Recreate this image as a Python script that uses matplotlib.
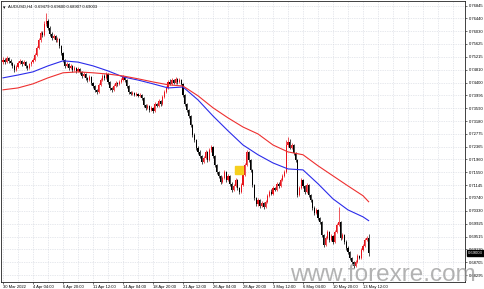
import matplotlib
matplotlib.use("Agg")
import matplotlib.pyplot as plt
from matplotlib.patches import Rectangle
from matplotlib.transforms import blended_transform_factory

# AUDUSD H4 candles
first_open = 0.7505
closes = [
    0.7512, 0.7505, 0.7518, 0.7509, 0.7502, 0.7493, 0.7480, 0.7490, 0.7502, 0.7509,
    0.7499, 0.7505, 0.7493, 0.7486, 0.7499, 0.7505, 0.7512, 0.7528, 0.7550, 0.7575,
    0.7597, 0.7591, 0.7626, 0.7635, 0.7613, 0.7594, 0.7582, 0.7588, 0.7575, 0.7578,
    0.7556, 0.7534, 0.7512, 0.7493, 0.7499, 0.7486, 0.7493, 0.7480, 0.7486, 0.7477,
    0.7483, 0.7474, 0.7461, 0.7467, 0.7455, 0.7448, 0.7458, 0.7439, 0.7429, 0.7417,
    0.7410, 0.7433, 0.7448, 0.7461, 0.7455, 0.7467, 0.7442, 0.7423, 0.7417, 0.7429,
    0.7439, 0.7436, 0.7442, 0.7448, 0.7458, 0.7448, 0.7429, 0.7410, 0.7404, 0.7407,
    0.7401, 0.7404, 0.7398, 0.7401, 0.7391, 0.7369, 0.7360, 0.7366, 0.7353, 0.7360,
    0.7350, 0.7372, 0.7366, 0.7382, 0.7372, 0.7395, 0.7410, 0.7423, 0.7442, 0.7436,
    0.7448, 0.7439, 0.7452, 0.7442, 0.7448, 0.7436, 0.7401, 0.7372, 0.7353, 0.7334,
    0.7306, 0.7274, 0.7258, 0.7233, 0.7220, 0.7207, 0.7188, 0.7201, 0.7220, 0.7195,
    0.7226, 0.7236, 0.7207, 0.7179, 0.7157, 0.7144, 0.7125, 0.7138, 0.7157, 0.7131,
    0.7144, 0.7119, 0.7100, 0.7112, 0.7131, 0.7106, 0.7093, 0.7116, 0.7147, 0.7179,
    0.7220, 0.7195, 0.7163, 0.7116, 0.7074, 0.7055, 0.7068, 0.7049, 0.7058, 0.7046,
    0.7062, 0.7081, 0.7093, 0.7087, 0.7106, 0.7100, 0.7119, 0.7112, 0.7131, 0.7144,
    0.7157, 0.7242, 0.7252, 0.7233, 0.7242, 0.7217, 0.7195, 0.7084, 0.7106, 0.7131,
    0.7112, 0.7093, 0.7116, 0.7084, 0.7068, 0.7043, 0.7027, 0.7036, 0.7011, 0.6998,
    0.6957, 0.6925, 0.6948, 0.6967, 0.6941, 0.6954, 0.6935, 0.6967, 0.6989, 0.6998,
    0.6948, 0.6957, 0.6935, 0.6916, 0.6903, 0.6884, 0.6871, 0.6859, 0.6871, 0.6890,
    0.6884, 0.6910, 0.6922, 0.6941, 0.69479, 0.69003,
]
highs = [
    0.7520, 0.7518, 0.7524, 0.7522, 0.7514, 0.7506, 0.7498, 0.7495, 0.7507, 0.7515,
    0.7513, 0.7511, 0.7508, 0.7497, 0.7503, 0.7510, 0.7518, 0.7533, 0.7556, 0.7581,
    0.7603, 0.7605, 0.7634, 0.7661, 0.7642, 0.7618, 0.7600, 0.7595, 0.7592, 0.7584,
    0.7582, 0.7560, 0.7538, 0.7516, 0.7505, 0.7503, 0.7499, 0.7497, 0.7492, 0.7490,
    0.7489, 0.7487, 0.7478, 0.7473, 0.7470, 0.7459, 0.7463, 0.7461, 0.7443, 0.7433,
    0.7421, 0.7438, 0.7453, 0.7466, 0.7467, 0.7473, 0.7470, 0.7446, 0.7427, 0.7434,
    0.7444, 0.7443, 0.7447, 0.7453, 0.7464, 0.7461, 0.7451, 0.7432, 0.7414, 0.7412,
    0.7411, 0.7409, 0.7408, 0.7406, 0.7404, 0.7394, 0.7373, 0.7371, 0.7369, 0.7365,
    0.7363, 0.7377, 0.7376, 0.7388, 0.7385, 0.7400, 0.7415, 0.7429, 0.7448, 0.7452,
    0.7454, 0.7451, 0.7458, 0.7455, 0.7453, 0.7451, 0.7439, 0.7405, 0.7376, 0.7357,
    0.7338, 0.7310, 0.7279, 0.7262, 0.7238, 0.7225, 0.7211, 0.7206, 0.7226, 0.7224,
    0.7231, 0.7241, 0.7239, 0.7211, 0.7183, 0.7161, 0.7148, 0.7143, 0.7162, 0.7160,
    0.7149, 0.7147, 0.7123, 0.7117, 0.7136, 0.7134, 0.7110, 0.7121, 0.7152, 0.7184,
    0.7226, 0.7224, 0.7198, 0.7166, 0.7119, 0.7078, 0.7073, 0.7071, 0.7063, 0.7061,
    0.7067, 0.7086, 0.7098, 0.7101, 0.7111, 0.7110, 0.7124, 0.7123, 0.7136, 0.7149,
    0.7162, 0.7258, 0.7266, 0.7261, 0.7248, 0.7246, 0.7221, 0.7199, 0.7111, 0.7137,
    0.7135, 0.7116, 0.7121, 0.7119, 0.7088, 0.7072, 0.7047, 0.7041, 0.7040, 0.7015,
    0.7002, 0.6961, 0.6953, 0.6972, 0.6970, 0.6959, 0.6957, 0.6972, 0.6994, 0.7045,
    0.7002, 0.6962, 0.6960, 0.6939, 0.6920, 0.6907, 0.6888, 0.6875, 0.6876, 0.6895,
    0.6894, 0.6915, 0.6927, 0.6946, 0.6953, 0.69600,
]
lows = [
    0.7500, 0.7498, 0.7501, 0.7503, 0.7495, 0.7486, 0.7474, 0.7476, 0.7486, 0.7498,
    0.7494, 0.7495, 0.7487, 0.7480, 0.7483, 0.7494, 0.7501, 0.7508, 0.7524, 0.7545,
    0.7570, 0.7585, 0.7587, 0.7620, 0.7607, 0.7588, 0.7575, 0.7577, 0.7569, 0.7570,
    0.7550, 0.7528, 0.7506, 0.7487, 0.7488, 0.7480, 0.7482, 0.7474, 0.7476, 0.7471,
    0.7473, 0.7468, 0.7455, 0.7457, 0.7449, 0.7442, 0.7444, 0.7433, 0.7423, 0.7410,
    0.7403, 0.7406, 0.7429, 0.7444, 0.7449, 0.7451, 0.7436, 0.7417, 0.7411, 0.7413,
    0.7425, 0.7430, 0.7432, 0.7438, 0.7444, 0.7443, 0.7424, 0.7404, 0.7399, 0.7400,
    0.7396, 0.7397, 0.7393, 0.7394, 0.7386, 0.7363, 0.7354, 0.7356, 0.7347, 0.7349,
    0.7344, 0.7347, 0.7361, 0.7362, 0.7367, 0.7368, 0.7391, 0.7406, 0.7419, 0.7431,
    0.7432, 0.7434, 0.7435, 0.7437, 0.7438, 0.7431, 0.7395, 0.7366, 0.7347, 0.7328,
    0.7300, 0.7268, 0.7252, 0.7227, 0.7214, 0.7201, 0.7182, 0.7184, 0.7197, 0.7189,
    0.7191, 0.7221, 0.7201, 0.7173, 0.7151, 0.7138, 0.7118, 0.7121, 0.7134, 0.7125,
    0.7127, 0.7113, 0.7094, 0.7096, 0.7108, 0.7100, 0.7086, 0.7089, 0.7112, 0.7143,
    0.7175, 0.7189, 0.7157, 0.7110, 0.7068, 0.7048, 0.7050, 0.7043, 0.7044, 0.7040,
    0.7042, 0.7058, 0.7077, 0.7082, 0.7083, 0.7095, 0.7096, 0.7107, 0.7108, 0.7127,
    0.7140, 0.7152, 0.7237, 0.7228, 0.7228, 0.7211, 0.7189, 0.7078, 0.7080, 0.7102,
    0.7106, 0.7087, 0.7089, 0.7078, 0.7062, 0.7037, 0.7021, 0.7022, 0.7005, 0.6992,
    0.6951, 0.6919, 0.6921, 0.6944, 0.6935, 0.6937, 0.6929, 0.6931, 0.6963, 0.6985,
    0.6942, 0.6944, 0.6929, 0.6910, 0.6897, 0.6878, 0.6865, 0.6853, 0.6855, 0.6867,
    0.6879, 0.6880, 0.6906, 0.6918, 0.6937, 0.68907,
]
opens = [first_open] + closes[:-1]

# moving averages, sampled every 8 bars
ma_bars = [0, 8, 16, 24, 32, 40, 48, 56, 64, 72, 80, 88, 96, 104, 112, 120,
           128, 136, 144, 152, 160, 168, 176, 184, 192, 195]
ma_blue = [0.7455, 0.7464, 0.7474, 0.7493, 0.7509, 0.7505, 0.7493, 0.7477, 0.7458,
           0.7448, 0.7436, 0.7423, 0.7426, 0.7385, 0.7334, 0.7287, 0.7242, 0.7211,
           0.7185, 0.7166, 0.7163, 0.7119, 0.7071, 0.7036, 0.7014, 0.7002]
ma_red = [0.7417, 0.7423, 0.7436, 0.7455, 0.7471, 0.7474, 0.7471, 0.7467, 0.7461,
          0.7452, 0.7442, 0.7433, 0.7429, 0.7398, 0.7360, 0.7328, 0.7299, 0.7277,
          0.7242, 0.7220, 0.7211, 0.7176, 0.7144, 0.7112, 0.7081, 0.7062]

date_labels = ["30 Mar 2022", "4 Apr 04:00", "6 Apr 20:00", "11 Apr 12:00",
               "14 Apr 04:00", "18 Apr 20:00", "21 Apr 12:00", "26 Apr 04:00",
               "28 Apr 20:00", "3 May 12:00", "6 May 04:00", "10 May 20:00",
               "13 May 12:00"]
price_ticks = [0.76845, 0.76440, 0.76030, 0.75625, 0.75215, 0.74810, 0.74400,
               0.73995, 0.73590, 0.73180, 0.72775, 0.72365, 0.71960, 0.71550,
               0.71145, 0.70740, 0.70330, 0.69925, 0.69515, 0.69110, 0.68705,
               0.68295]
header = "AUDUSD,H4  0.69479 0.69600 0.68907 0.69003"
marker_bar, marker_price = 125.8, 0.71625   # yellow box

fnt = "Liberation Sans"
fig = plt.figure(figsize=(4.84, 2.89), dpi=100)
ax = fig.add_axes([1 / 484, 7 / 289, 464 / 484, 281 / 289])

n = len(closes)
idx = list(range(n))
up = [closes[i] >= opens[i] for i in idx]
cols = ["#e8141c" if u else "black" for u in up]
ax.vlines(idx, lows, highs, colors=cols, lw=0.5, zorder=3)
bottoms = [min(opens[i], closes[i]) for i in idx]
heights = [max(abs(closes[i] - opens[i]), 0.00006) for i in idx]
ax.bar(idx, heights, bottom=bottoms, width=0.62, color=cols, lw=0, zorder=3)

ax.plot(ma_bars, ma_blue, color="#2b2bea", lw=0.8, zorder=4)
ax.plot(ma_bars, ma_red, color="#ee3030", lw=0.8, zorder=4)

ax.add_patch(Rectangle((marker_bar - 2.1, marker_price - 0.00125), 4.2, 0.0025,
                       color="#f6cf1e", zorder=5))

ax.set_xlim(-1.07, 246.4)
ax.set_ylim(0.68073, 0.76988)

ax.set_xticks(list(range(0, 16 * len(date_labels), 16)))
ax.set_xticklabels(date_labels, fontsize=3, family=fnt, ha="left")
ax.set_xticks(list(range(0, 247, 8)), minor=True)
ax.yaxis.tick_right()
ax.set_yticks(price_ticks)
ax.set_yticklabels(["%.5f" % p for p in price_ticks], fontsize=3, family=fnt)
ax.tick_params(axis="both", which="both", length=1.5, width=0.4, pad=1)
ax.tick_params(axis="x", which="minor", length=0)
ax.grid(True, which="both", axis="x", color="#cfd3dc", lw=0.5, ls=(0, (1, 1.5)))
ax.grid(True, which="major", axis="y", color="#cfd3dc", lw=0.5, ls=(0, (1, 1.5)))
ax.set_axisbelow(True)
for s in ax.spines.values():
    s.set_linewidth(0.6)
    s.set_color("#222222")

# current price tag on the scale
tr = blended_transform_factory(ax.transAxes, ax.transData)
ax.text(1.006, closes[-1], "%.5f" % closes[-1], transform=tr, fontsize=3,
        family=fnt, color="white", va="center", ha="left", clip_on=False,
        bbox=dict(boxstyle="square,pad=0.25", fc="black", ec="black"), zorder=6)

ax.text(0.004, 0.985, "\u25be", transform=ax.transAxes, fontsize=3.5, va="top")
ax.text(0.016, 0.988, header, transform=ax.transAxes, fontsize=3, family=fnt, va="top")

fig.text(290 / 484, 8 / 289, "www.forexre.com", fontsize=17.5, family=fnt,
         color="#9a9a9a", alpha=0.75, va="baseline", ha="left", zorder=10)

fig.savefig("out.png", dpi=100)
